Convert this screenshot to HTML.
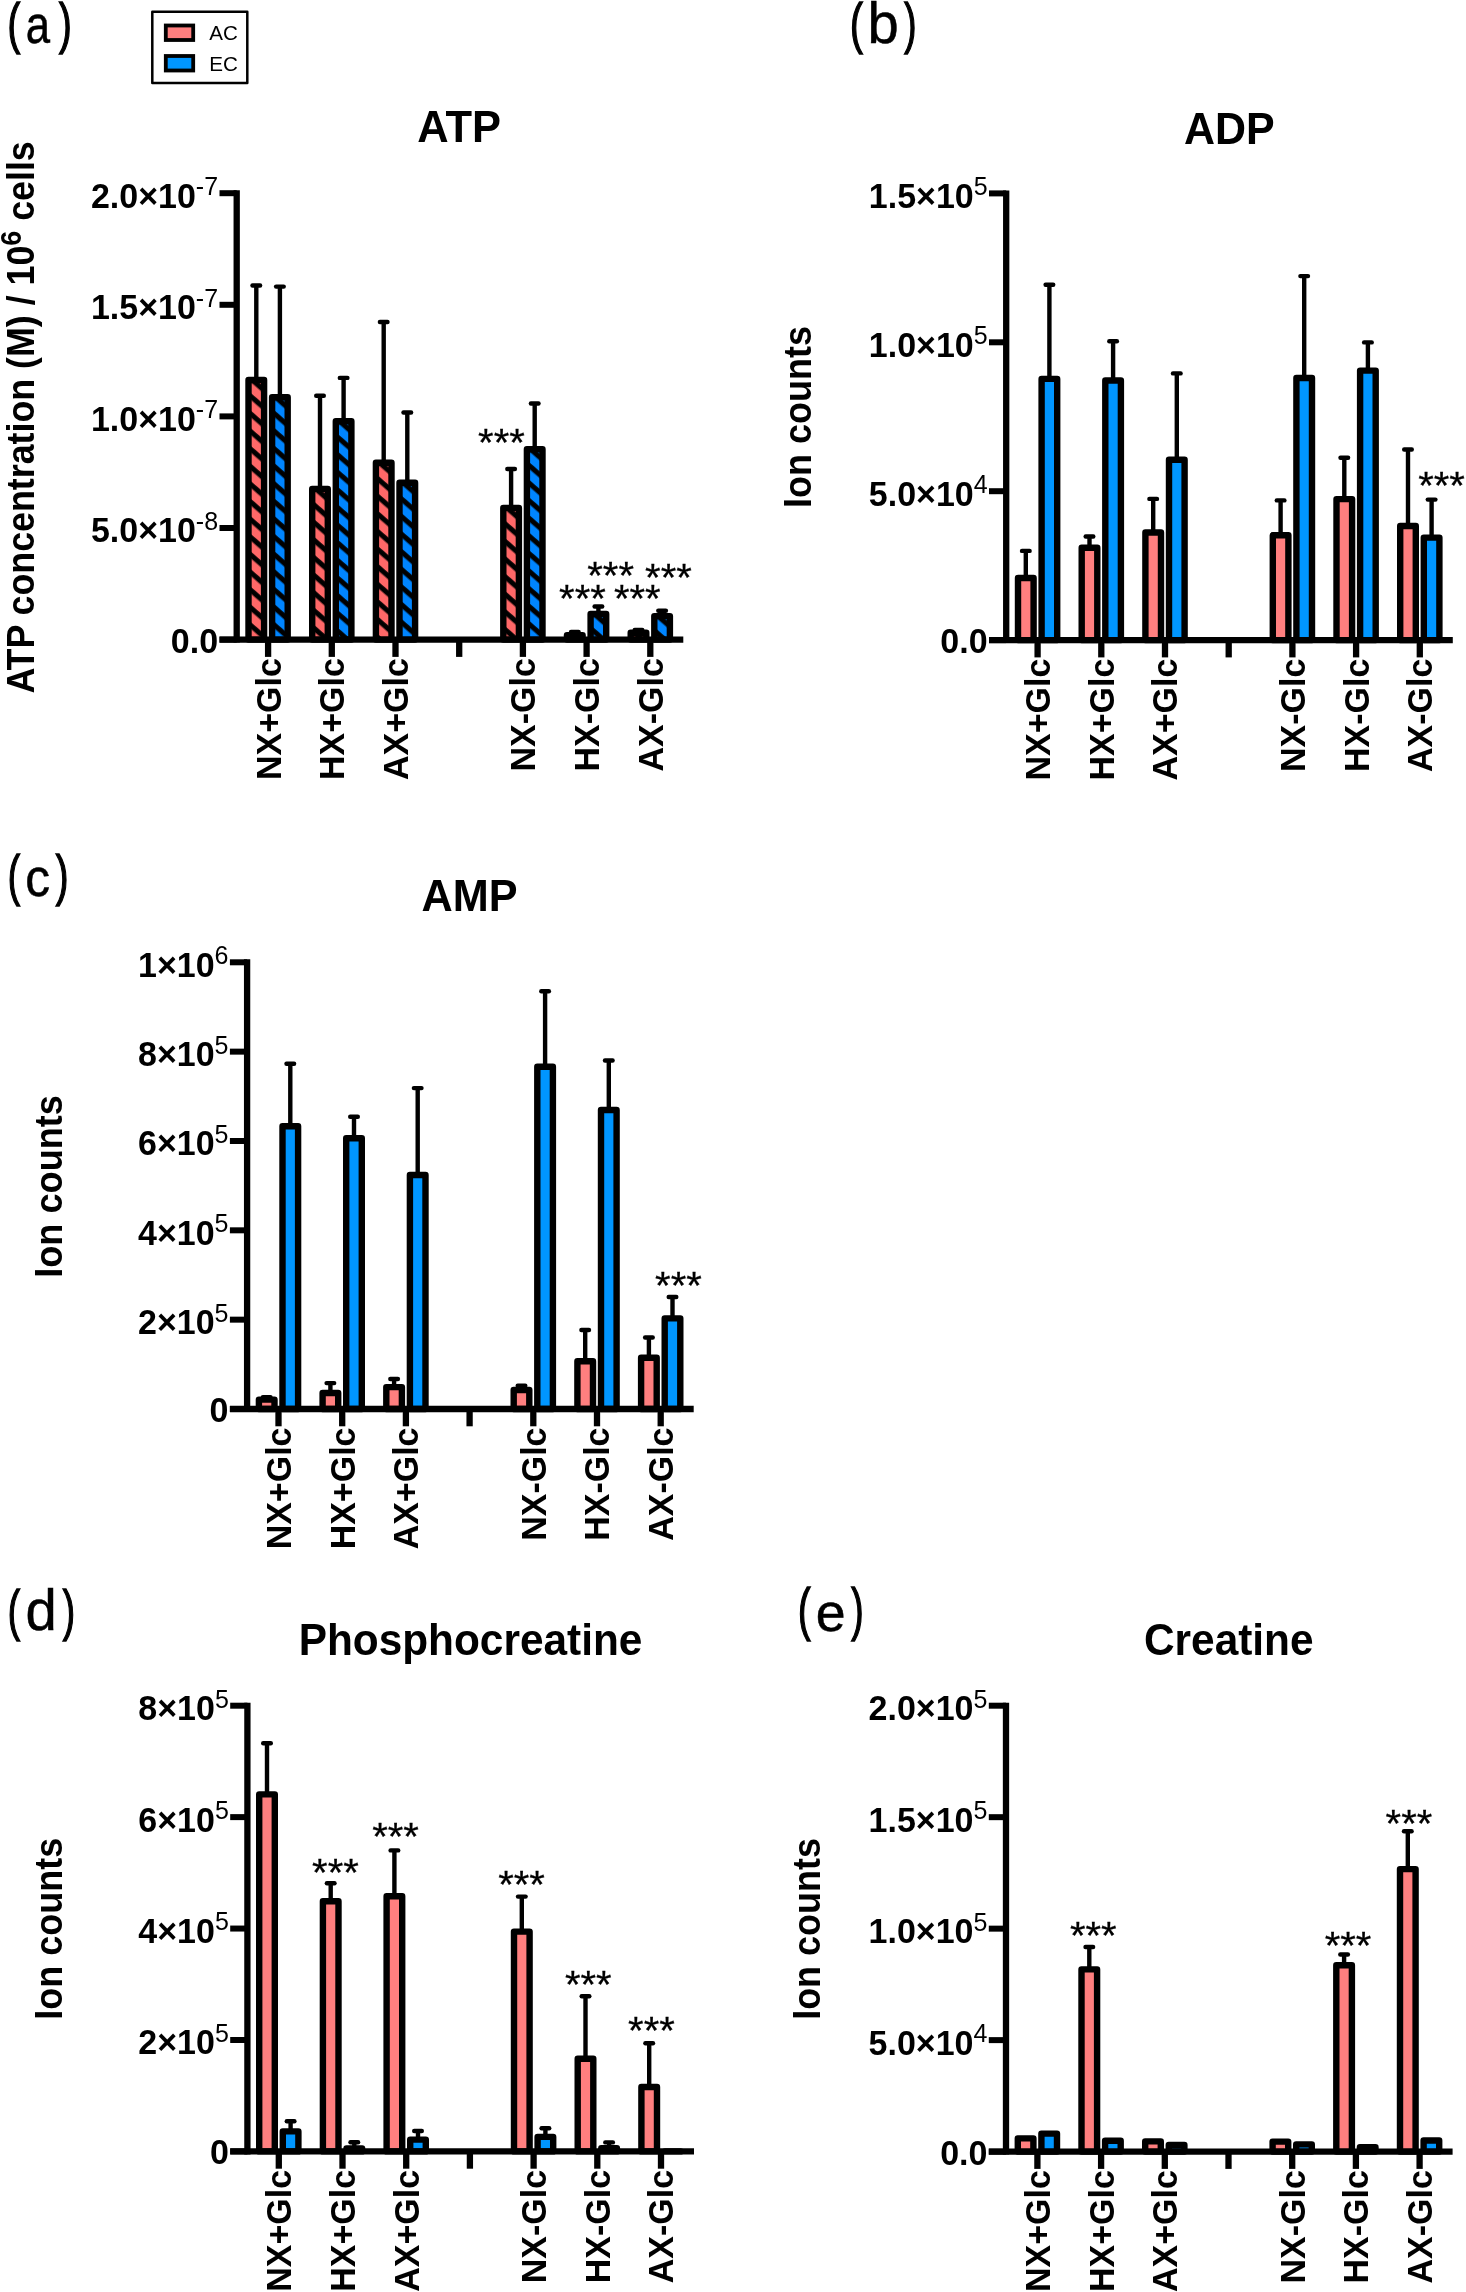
<!DOCTYPE html><html><head><meta charset="utf-8"><style>html,body{margin:0;padding:0;background:#fff;width:1466px;height:2292px;overflow:hidden}svg{display:block;will-change:transform}</style></head><body><svg width="1466" height="2292" viewBox="0 0 1466 2292" font-family="Liberation Sans, sans-serif">
<defs><pattern id="ha0p" patternUnits="userSpaceOnUse" width="60" height="13.2980" patternTransform="translate(245.30,376.80) rotate(41)"><rect width="60" height="13.2980" fill="#FF6868"/><rect x="0" y="8.6661" width="60" height="5.0566" fill="#000"/><rect x="0" y="-4.6319" width="60" height="5.0566" fill="#000"/></pattern><pattern id="ha0b" patternUnits="userSpaceOnUse" width="60" height="13.2980" patternTransform="translate(268.90,394.10) rotate(41)"><rect width="60" height="13.2980" fill="#0085FF"/><rect x="0" y="8.6661" width="60" height="5.0566" fill="#000"/><rect x="0" y="-4.6319" width="60" height="5.0566" fill="#000"/></pattern><pattern id="ha1p" patternUnits="userSpaceOnUse" width="60" height="13.2980" patternTransform="translate(309.00,485.70) rotate(41)"><rect width="60" height="13.2980" fill="#FF6868"/><rect x="0" y="8.6661" width="60" height="5.0566" fill="#000"/><rect x="0" y="-4.6319" width="60" height="5.0566" fill="#000"/></pattern><pattern id="ha1b" patternUnits="userSpaceOnUse" width="60" height="13.2980" patternTransform="translate(332.60,418.00) rotate(41)"><rect width="60" height="13.2980" fill="#0085FF"/><rect x="0" y="8.6661" width="60" height="5.0566" fill="#000"/><rect x="0" y="-4.6319" width="60" height="5.0566" fill="#000"/></pattern><pattern id="ha2p" patternUnits="userSpaceOnUse" width="60" height="13.2980" patternTransform="translate(372.70,459.60) rotate(41)"><rect width="60" height="13.2980" fill="#FF6868"/><rect x="0" y="8.6661" width="60" height="5.0566" fill="#000"/><rect x="0" y="-4.6319" width="60" height="5.0566" fill="#000"/></pattern><pattern id="ha2b" patternUnits="userSpaceOnUse" width="60" height="13.2980" patternTransform="translate(396.30,479.60) rotate(41)"><rect width="60" height="13.2980" fill="#0085FF"/><rect x="0" y="8.6661" width="60" height="5.0566" fill="#000"/><rect x="0" y="-4.6319" width="60" height="5.0566" fill="#000"/></pattern><pattern id="ha4p" patternUnits="userSpaceOnUse" width="60" height="13.2980" patternTransform="translate(500.10,504.70) rotate(41)"><rect width="60" height="13.2980" fill="#FF6868"/><rect x="0" y="8.6661" width="60" height="5.0566" fill="#000"/><rect x="0" y="-4.6319" width="60" height="5.0566" fill="#000"/></pattern><pattern id="ha4b" patternUnits="userSpaceOnUse" width="60" height="13.2980" patternTransform="translate(523.70,446.00) rotate(41)"><rect width="60" height="13.2980" fill="#0085FF"/><rect x="0" y="8.6661" width="60" height="5.0566" fill="#000"/><rect x="0" y="-4.6319" width="60" height="5.0566" fill="#000"/></pattern><pattern id="ha5p" patternUnits="userSpaceOnUse" width="60" height="13.2980" patternTransform="translate(563.80,632.10) rotate(41)"><rect width="60" height="13.2980" fill="#FF6868"/><rect x="0" y="8.6661" width="60" height="5.0566" fill="#000"/><rect x="0" y="-4.6319" width="60" height="5.0566" fill="#000"/></pattern><pattern id="ha5b" patternUnits="userSpaceOnUse" width="60" height="13.2980" patternTransform="translate(587.40,610.80) rotate(41)"><rect width="60" height="13.2980" fill="#0085FF"/><rect x="0" y="8.6661" width="60" height="5.0566" fill="#000"/><rect x="0" y="-4.6319" width="60" height="5.0566" fill="#000"/></pattern><pattern id="ha6p" patternUnits="userSpaceOnUse" width="60" height="13.2980" patternTransform="translate(627.50,629.50) rotate(41)"><rect width="60" height="13.2980" fill="#FF6868"/><rect x="0" y="8.6661" width="60" height="5.0566" fill="#000"/><rect x="0" y="-4.6319" width="60" height="5.0566" fill="#000"/></pattern><pattern id="ha6b" patternUnits="userSpaceOnUse" width="60" height="13.2980" patternTransform="translate(651.10,612.90) rotate(41)"><rect width="60" height="13.2980" fill="#0085FF"/><rect x="0" y="8.6661" width="60" height="5.0566" fill="#000"/><rect x="0" y="-4.6319" width="60" height="5.0566" fill="#000"/></pattern></defs>
<rect width="1466" height="2292" fill="#fff"/>
<line x1="219.50" y1="193.20" x2="236.70" y2="193.20" stroke="#000" stroke-width="6"/>
<text transform="translate(195.87,207.60) scale(1,1.04)" text-anchor="end" font-size="34" font-weight="bold">2.0×10</text>
<text x="195.87" y="195.10" font-size="25">-7</text>
<line x1="219.50" y1="304.80" x2="236.70" y2="304.80" stroke="#000" stroke-width="6"/>
<text transform="translate(195.87,319.20) scale(1,1.04)" text-anchor="end" font-size="34" font-weight="bold">1.5×10</text>
<text x="195.87" y="306.70" font-size="25">-7</text>
<line x1="219.50" y1="416.40" x2="236.70" y2="416.40" stroke="#000" stroke-width="6"/>
<text transform="translate(195.87,430.80) scale(1,1.04)" text-anchor="end" font-size="34" font-weight="bold">1.0×10</text>
<text x="195.87" y="418.30" font-size="25">-7</text>
<line x1="219.50" y1="528.00" x2="236.70" y2="528.00" stroke="#000" stroke-width="6"/>
<text transform="translate(195.87,542.40) scale(1,1.04)" text-anchor="end" font-size="34" font-weight="bold">5.0×10</text>
<text x="195.87" y="529.90" font-size="25">-8</text>
<line x1="219.50" y1="639.60" x2="236.70" y2="639.60" stroke="#000" stroke-width="6"/>
<text transform="translate(218.10,652.50) scale(1,1.04)" text-anchor="end" font-size="34" font-weight="bold">0.0</text>
<line x1="256.30" y1="285.50" x2="256.30" y2="380.00" stroke="#000" stroke-width="4.4"/>
<line x1="252.50" y1="285.50" x2="260.10" y2="285.50" stroke="#000" stroke-width="4.4" stroke-linecap="round"/>
<rect x="248.50" y="380.00" width="15.60" height="259.60" fill="url(#ha0p)" stroke="#000" stroke-width="6.4" stroke-linejoin="round"/>
<line x1="279.90" y1="286.60" x2="279.90" y2="397.30" stroke="#000" stroke-width="4.4"/>
<line x1="276.10" y1="286.60" x2="283.70" y2="286.60" stroke="#000" stroke-width="4.4" stroke-linecap="round"/>
<rect x="272.10" y="397.30" width="15.60" height="242.30" fill="url(#ha0b)" stroke="#000" stroke-width="6.4" stroke-linejoin="round"/>
<line x1="320.00" y1="395.70" x2="320.00" y2="488.90" stroke="#000" stroke-width="4.4"/>
<line x1="316.20" y1="395.70" x2="323.80" y2="395.70" stroke="#000" stroke-width="4.4" stroke-linecap="round"/>
<rect x="312.20" y="488.90" width="15.60" height="150.70" fill="url(#ha1p)" stroke="#000" stroke-width="6.4" stroke-linejoin="round"/>
<line x1="343.60" y1="377.90" x2="343.60" y2="421.20" stroke="#000" stroke-width="4.4"/>
<line x1="339.80" y1="377.90" x2="347.40" y2="377.90" stroke="#000" stroke-width="4.4" stroke-linecap="round"/>
<rect x="335.80" y="421.20" width="15.60" height="218.40" fill="url(#ha1b)" stroke="#000" stroke-width="6.4" stroke-linejoin="round"/>
<line x1="383.70" y1="322.00" x2="383.70" y2="462.80" stroke="#000" stroke-width="4.4"/>
<line x1="379.90" y1="322.00" x2="387.50" y2="322.00" stroke="#000" stroke-width="4.4" stroke-linecap="round"/>
<rect x="375.90" y="462.80" width="15.60" height="176.80" fill="url(#ha2p)" stroke="#000" stroke-width="6.4" stroke-linejoin="round"/>
<line x1="407.30" y1="412.50" x2="407.30" y2="482.80" stroke="#000" stroke-width="4.4"/>
<line x1="403.50" y1="412.50" x2="411.10" y2="412.50" stroke="#000" stroke-width="4.4" stroke-linecap="round"/>
<rect x="399.50" y="482.80" width="15.60" height="156.80" fill="url(#ha2b)" stroke="#000" stroke-width="6.4" stroke-linejoin="round"/>
<line x1="511.10" y1="469.00" x2="511.10" y2="507.90" stroke="#000" stroke-width="4.4"/>
<line x1="507.30" y1="469.00" x2="514.90" y2="469.00" stroke="#000" stroke-width="4.4" stroke-linecap="round"/>
<rect x="503.30" y="507.90" width="15.60" height="131.70" fill="url(#ha4p)" stroke="#000" stroke-width="6.4" stroke-linejoin="round"/>
<line x1="534.70" y1="403.50" x2="534.70" y2="449.20" stroke="#000" stroke-width="4.4"/>
<line x1="530.90" y1="403.50" x2="538.50" y2="403.50" stroke="#000" stroke-width="4.4" stroke-linecap="round"/>
<rect x="526.90" y="449.20" width="15.60" height="190.40" fill="url(#ha4b)" stroke="#000" stroke-width="6.4" stroke-linejoin="round"/>
<line x1="574.80" y1="631.90" x2="574.80" y2="635.30" stroke="#000" stroke-width="4.4"/>
<line x1="571.00" y1="631.90" x2="578.60" y2="631.90" stroke="#000" stroke-width="4.4" stroke-linecap="round"/>
<rect x="567.00" y="635.30" width="15.60" height="4.30" fill="url(#ha5p)" stroke="#000" stroke-width="6.4" stroke-linejoin="round"/>
<line x1="598.40" y1="606.50" x2="598.40" y2="614.00" stroke="#000" stroke-width="4.4"/>
<line x1="594.60" y1="606.50" x2="602.20" y2="606.50" stroke="#000" stroke-width="4.4" stroke-linecap="round"/>
<rect x="590.60" y="614.00" width="15.60" height="25.60" fill="url(#ha5b)" stroke="#000" stroke-width="6.4" stroke-linejoin="round"/>
<line x1="638.50" y1="629.90" x2="638.50" y2="632.70" stroke="#000" stroke-width="4.4"/>
<line x1="634.70" y1="629.90" x2="642.30" y2="629.90" stroke="#000" stroke-width="4.4" stroke-linecap="round"/>
<rect x="630.70" y="632.70" width="15.60" height="6.90" fill="url(#ha6p)" stroke="#000" stroke-width="6.4" stroke-linejoin="round"/>
<line x1="662.10" y1="610.80" x2="662.10" y2="616.10" stroke="#000" stroke-width="4.4"/>
<line x1="658.30" y1="610.80" x2="665.90" y2="610.80" stroke="#000" stroke-width="4.4" stroke-linecap="round"/>
<rect x="654.30" y="616.10" width="15.60" height="23.50" fill="url(#ha6b)" stroke="#000" stroke-width="6.4" stroke-linejoin="round"/>
<line x1="236.70" y1="190.20" x2="236.70" y2="642.60" stroke="#000" stroke-width="6.3"/>
<line x1="219.50" y1="639.60" x2="683.30" y2="639.60" stroke="#000" stroke-width="6.3"/>
<line x1="268.10" y1="639.60" x2="268.10" y2="656.90" stroke="#000" stroke-width="6.3"/>
<line x1="331.80" y1="639.60" x2="331.80" y2="656.90" stroke="#000" stroke-width="6.3"/>
<line x1="395.50" y1="639.60" x2="395.50" y2="656.90" stroke="#000" stroke-width="6.3"/>
<line x1="459.20" y1="639.60" x2="459.20" y2="656.90" stroke="#000" stroke-width="6.3"/>
<line x1="522.90" y1="639.60" x2="522.90" y2="656.90" stroke="#000" stroke-width="6.3"/>
<line x1="586.60" y1="639.60" x2="586.60" y2="656.90" stroke="#000" stroke-width="6.3"/>
<line x1="650.30" y1="639.60" x2="650.30" y2="656.90" stroke="#000" stroke-width="6.3"/>
<text transform="translate(280.50,658.10) rotate(-90) scale(1,1.04)" text-anchor="end" font-size="34" font-weight="bold">NX+Glc</text>
<text transform="translate(344.20,658.10) rotate(-90) scale(1,1.04)" text-anchor="end" font-size="34" font-weight="bold">HX+Glc</text>
<text transform="translate(407.90,658.10) rotate(-90) scale(1,1.04)" text-anchor="end" font-size="34" font-weight="bold">AX+Glc</text>
<text transform="translate(535.30,658.10) rotate(-90) scale(1,1.04)" text-anchor="end" font-size="34" font-weight="bold">NX-Glc</text>
<text transform="translate(599.00,658.10) rotate(-90) scale(1,1.04)" text-anchor="end" font-size="34" font-weight="bold">HX-Glc</text>
<text transform="translate(662.70,658.10) rotate(-90) scale(1,1.04)" text-anchor="end" font-size="34" font-weight="bold">AX-Glc</text>
<text transform="translate(417.31,142.20) scale(0.9881,1)" font-size="44" font-weight="bold">ATP</text>
<line x1="989.00" y1="193.40" x2="1006.20" y2="193.40" stroke="#000" stroke-width="6"/>
<text transform="translate(973.70,207.80) scale(1,1.04)" text-anchor="end" font-size="34" font-weight="bold">1.5×10</text>
<text x="973.70" y="195.30" font-size="25">5</text>
<line x1="989.00" y1="342.30" x2="1006.20" y2="342.30" stroke="#000" stroke-width="6"/>
<text transform="translate(973.70,356.70) scale(1,1.04)" text-anchor="end" font-size="34" font-weight="bold">1.0×10</text>
<text x="973.70" y="344.20" font-size="25">5</text>
<line x1="989.00" y1="491.20" x2="1006.20" y2="491.20" stroke="#000" stroke-width="6"/>
<text transform="translate(973.70,505.60) scale(1,1.04)" text-anchor="end" font-size="34" font-weight="bold">5.0×10</text>
<text x="973.70" y="493.10" font-size="25">4</text>
<line x1="989.00" y1="640.10" x2="1006.20" y2="640.10" stroke="#000" stroke-width="6"/>
<text transform="translate(987.60,653.00) scale(1,1.04)" text-anchor="end" font-size="34" font-weight="bold">0.0</text>
<line x1="1025.80" y1="550.90" x2="1025.80" y2="578.00" stroke="#000" stroke-width="4.4"/>
<line x1="1022.00" y1="550.90" x2="1029.60" y2="550.90" stroke="#000" stroke-width="4.4" stroke-linecap="round"/>
<rect x="1018.00" y="578.00" width="15.60" height="62.10" fill="#FF7F7F" stroke="#000" stroke-width="6.4" stroke-linejoin="round"/>
<line x1="1049.40" y1="284.70" x2="1049.40" y2="378.90" stroke="#000" stroke-width="4.4"/>
<line x1="1045.60" y1="284.70" x2="1053.20" y2="284.70" stroke="#000" stroke-width="4.4" stroke-linecap="round"/>
<rect x="1041.60" y="378.90" width="15.60" height="261.20" fill="#0096FF" stroke="#000" stroke-width="6.4" stroke-linejoin="round"/>
<line x1="1089.50" y1="536.50" x2="1089.50" y2="547.80" stroke="#000" stroke-width="4.4"/>
<line x1="1085.70" y1="536.50" x2="1093.30" y2="536.50" stroke="#000" stroke-width="4.4" stroke-linecap="round"/>
<rect x="1081.70" y="547.80" width="15.60" height="92.30" fill="#FF7F7F" stroke="#000" stroke-width="6.4" stroke-linejoin="round"/>
<line x1="1113.10" y1="341.30" x2="1113.10" y2="380.50" stroke="#000" stroke-width="4.4"/>
<line x1="1109.30" y1="341.30" x2="1116.90" y2="341.30" stroke="#000" stroke-width="4.4" stroke-linecap="round"/>
<rect x="1105.30" y="380.50" width="15.60" height="259.60" fill="#0096FF" stroke="#000" stroke-width="6.4" stroke-linejoin="round"/>
<line x1="1153.20" y1="498.90" x2="1153.20" y2="532.50" stroke="#000" stroke-width="4.4"/>
<line x1="1149.40" y1="498.90" x2="1157.00" y2="498.90" stroke="#000" stroke-width="4.4" stroke-linecap="round"/>
<rect x="1145.40" y="532.50" width="15.60" height="107.60" fill="#FF7F7F" stroke="#000" stroke-width="6.4" stroke-linejoin="round"/>
<line x1="1176.80" y1="373.40" x2="1176.80" y2="459.70" stroke="#000" stroke-width="4.4"/>
<line x1="1173.00" y1="373.40" x2="1180.60" y2="373.40" stroke="#000" stroke-width="4.4" stroke-linecap="round"/>
<rect x="1169.00" y="459.70" width="15.60" height="180.40" fill="#0096FF" stroke="#000" stroke-width="6.4" stroke-linejoin="round"/>
<line x1="1280.60" y1="500.40" x2="1280.60" y2="535.30" stroke="#000" stroke-width="4.4"/>
<line x1="1276.80" y1="500.40" x2="1284.40" y2="500.40" stroke="#000" stroke-width="4.4" stroke-linecap="round"/>
<rect x="1272.80" y="535.30" width="15.60" height="104.80" fill="#FF7F7F" stroke="#000" stroke-width="6.4" stroke-linejoin="round"/>
<line x1="1304.20" y1="276.10" x2="1304.20" y2="378.00" stroke="#000" stroke-width="4.4"/>
<line x1="1300.40" y1="276.10" x2="1308.00" y2="276.10" stroke="#000" stroke-width="4.4" stroke-linecap="round"/>
<rect x="1296.40" y="378.00" width="15.60" height="262.10" fill="#0096FF" stroke="#000" stroke-width="6.4" stroke-linejoin="round"/>
<line x1="1344.30" y1="457.70" x2="1344.30" y2="499.10" stroke="#000" stroke-width="4.4"/>
<line x1="1340.50" y1="457.70" x2="1348.10" y2="457.70" stroke="#000" stroke-width="4.4" stroke-linecap="round"/>
<rect x="1336.50" y="499.10" width="15.60" height="141.00" fill="#FF7F7F" stroke="#000" stroke-width="6.4" stroke-linejoin="round"/>
<line x1="1367.90" y1="342.40" x2="1367.90" y2="370.60" stroke="#000" stroke-width="4.4"/>
<line x1="1364.10" y1="342.40" x2="1371.70" y2="342.40" stroke="#000" stroke-width="4.4" stroke-linecap="round"/>
<rect x="1360.10" y="370.60" width="15.60" height="269.50" fill="#0096FF" stroke="#000" stroke-width="6.4" stroke-linejoin="round"/>
<line x1="1408.00" y1="449.50" x2="1408.00" y2="526.00" stroke="#000" stroke-width="4.4"/>
<line x1="1404.20" y1="449.50" x2="1411.80" y2="449.50" stroke="#000" stroke-width="4.4" stroke-linecap="round"/>
<rect x="1400.20" y="526.00" width="15.60" height="114.10" fill="#FF7F7F" stroke="#000" stroke-width="6.4" stroke-linejoin="round"/>
<line x1="1431.60" y1="499.60" x2="1431.60" y2="537.60" stroke="#000" stroke-width="4.4"/>
<line x1="1427.80" y1="499.60" x2="1435.40" y2="499.60" stroke="#000" stroke-width="4.4" stroke-linecap="round"/>
<rect x="1423.80" y="537.60" width="15.60" height="102.50" fill="#0096FF" stroke="#000" stroke-width="6.4" stroke-linejoin="round"/>
<line x1="1006.20" y1="190.40" x2="1006.20" y2="643.10" stroke="#000" stroke-width="6.3"/>
<line x1="989.00" y1="640.10" x2="1452.80" y2="640.10" stroke="#000" stroke-width="6.3"/>
<line x1="1037.60" y1="640.10" x2="1037.60" y2="657.40" stroke="#000" stroke-width="6.3"/>
<line x1="1101.30" y1="640.10" x2="1101.30" y2="657.40" stroke="#000" stroke-width="6.3"/>
<line x1="1165.00" y1="640.10" x2="1165.00" y2="657.40" stroke="#000" stroke-width="6.3"/>
<line x1="1228.70" y1="640.10" x2="1228.70" y2="657.40" stroke="#000" stroke-width="6.3"/>
<line x1="1292.40" y1="640.10" x2="1292.40" y2="657.40" stroke="#000" stroke-width="6.3"/>
<line x1="1356.10" y1="640.10" x2="1356.10" y2="657.40" stroke="#000" stroke-width="6.3"/>
<line x1="1419.80" y1="640.10" x2="1419.80" y2="657.40" stroke="#000" stroke-width="6.3"/>
<text transform="translate(1050.00,658.60) rotate(-90) scale(1,1.04)" text-anchor="end" font-size="34" font-weight="bold">NX+Glc</text>
<text transform="translate(1113.70,658.60) rotate(-90) scale(1,1.04)" text-anchor="end" font-size="34" font-weight="bold">HX+Glc</text>
<text transform="translate(1177.40,658.60) rotate(-90) scale(1,1.04)" text-anchor="end" font-size="34" font-weight="bold">AX+Glc</text>
<text transform="translate(1304.80,658.60) rotate(-90) scale(1,1.04)" text-anchor="end" font-size="34" font-weight="bold">NX-Glc</text>
<text transform="translate(1368.50,658.60) rotate(-90) scale(1,1.04)" text-anchor="end" font-size="34" font-weight="bold">HX-Glc</text>
<text transform="translate(1432.20,658.60) rotate(-90) scale(1,1.04)" text-anchor="end" font-size="34" font-weight="bold">AX-Glc</text>
<text transform="translate(1183.93,143.50) scale(0.9766,1)" font-size="44" font-weight="bold">ADP</text>
<line x1="229.90" y1="962.30" x2="247.10" y2="962.30" stroke="#000" stroke-width="6"/>
<text transform="translate(214.60,976.70) scale(1,1.04)" text-anchor="end" font-size="34" font-weight="bold">1×10</text>
<text x="214.60" y="964.20" font-size="25">6</text>
<line x1="229.90" y1="1051.64" x2="247.10" y2="1051.64" stroke="#000" stroke-width="6"/>
<text transform="translate(214.60,1066.04) scale(1,1.04)" text-anchor="end" font-size="34" font-weight="bold">8×10</text>
<text x="214.60" y="1053.54" font-size="25">5</text>
<line x1="229.90" y1="1140.98" x2="247.10" y2="1140.98" stroke="#000" stroke-width="6"/>
<text transform="translate(214.60,1155.38) scale(1,1.04)" text-anchor="end" font-size="34" font-weight="bold">6×10</text>
<text x="214.60" y="1142.88" font-size="25">5</text>
<line x1="229.90" y1="1230.32" x2="247.10" y2="1230.32" stroke="#000" stroke-width="6"/>
<text transform="translate(214.60,1244.72) scale(1,1.04)" text-anchor="end" font-size="34" font-weight="bold">4×10</text>
<text x="214.60" y="1232.22" font-size="25">5</text>
<line x1="229.90" y1="1319.66" x2="247.10" y2="1319.66" stroke="#000" stroke-width="6"/>
<text transform="translate(214.60,1334.06) scale(1,1.04)" text-anchor="end" font-size="34" font-weight="bold">2×10</text>
<text x="214.60" y="1321.56" font-size="25">5</text>
<line x1="229.90" y1="1409.00" x2="247.10" y2="1409.00" stroke="#000" stroke-width="6"/>
<text transform="translate(228.50,1421.90) scale(1,1.04)" text-anchor="end" font-size="34" font-weight="bold">0</text>
<line x1="266.70" y1="1397.20" x2="266.70" y2="1399.60" stroke="#000" stroke-width="4.4"/>
<line x1="262.90" y1="1397.20" x2="270.50" y2="1397.20" stroke="#000" stroke-width="4.4" stroke-linecap="round"/>
<rect x="258.90" y="1399.60" width="15.60" height="9.40" fill="#FF7F7F" stroke="#000" stroke-width="6.4" stroke-linejoin="round"/>
<line x1="290.30" y1="1063.80" x2="290.30" y2="1126.30" stroke="#000" stroke-width="4.4"/>
<line x1="286.50" y1="1063.80" x2="294.10" y2="1063.80" stroke="#000" stroke-width="4.4" stroke-linecap="round"/>
<rect x="282.50" y="1126.30" width="15.60" height="282.70" fill="#0096FF" stroke="#000" stroke-width="6.4" stroke-linejoin="round"/>
<line x1="330.40" y1="1383.10" x2="330.40" y2="1393.00" stroke="#000" stroke-width="4.4"/>
<line x1="326.60" y1="1383.10" x2="334.20" y2="1383.10" stroke="#000" stroke-width="4.4" stroke-linecap="round"/>
<rect x="322.60" y="1393.00" width="15.60" height="16.00" fill="#FF7F7F" stroke="#000" stroke-width="6.4" stroke-linejoin="round"/>
<line x1="354.00" y1="1116.80" x2="354.00" y2="1138.20" stroke="#000" stroke-width="4.4"/>
<line x1="350.20" y1="1116.80" x2="357.80" y2="1116.80" stroke="#000" stroke-width="4.4" stroke-linecap="round"/>
<rect x="346.20" y="1138.20" width="15.60" height="270.80" fill="#0096FF" stroke="#000" stroke-width="6.4" stroke-linejoin="round"/>
<line x1="394.10" y1="1379.00" x2="394.10" y2="1387.10" stroke="#000" stroke-width="4.4"/>
<line x1="390.30" y1="1379.00" x2="397.90" y2="1379.00" stroke="#000" stroke-width="4.4" stroke-linecap="round"/>
<rect x="386.30" y="1387.10" width="15.60" height="21.90" fill="#FF7F7F" stroke="#000" stroke-width="6.4" stroke-linejoin="round"/>
<line x1="417.70" y1="1088.10" x2="417.70" y2="1175.00" stroke="#000" stroke-width="4.4"/>
<line x1="413.90" y1="1088.10" x2="421.50" y2="1088.10" stroke="#000" stroke-width="4.4" stroke-linecap="round"/>
<rect x="409.90" y="1175.00" width="15.60" height="234.00" fill="#0096FF" stroke="#000" stroke-width="6.4" stroke-linejoin="round"/>
<line x1="521.50" y1="1385.80" x2="521.50" y2="1390.00" stroke="#000" stroke-width="4.4"/>
<line x1="517.70" y1="1385.80" x2="525.30" y2="1385.80" stroke="#000" stroke-width="4.4" stroke-linecap="round"/>
<rect x="513.70" y="1390.00" width="15.60" height="19.00" fill="#FF7F7F" stroke="#000" stroke-width="6.4" stroke-linejoin="round"/>
<line x1="545.10" y1="991.30" x2="545.10" y2="1066.80" stroke="#000" stroke-width="4.4"/>
<line x1="541.30" y1="991.30" x2="548.90" y2="991.30" stroke="#000" stroke-width="4.4" stroke-linecap="round"/>
<rect x="537.30" y="1066.80" width="15.60" height="342.20" fill="#0096FF" stroke="#000" stroke-width="6.4" stroke-linejoin="round"/>
<line x1="585.20" y1="1330.00" x2="585.20" y2="1361.20" stroke="#000" stroke-width="4.4"/>
<line x1="581.40" y1="1330.00" x2="589.00" y2="1330.00" stroke="#000" stroke-width="4.4" stroke-linecap="round"/>
<rect x="577.40" y="1361.20" width="15.60" height="47.80" fill="#FF7F7F" stroke="#000" stroke-width="6.4" stroke-linejoin="round"/>
<line x1="608.80" y1="1060.50" x2="608.80" y2="1110.00" stroke="#000" stroke-width="4.4"/>
<line x1="605.00" y1="1060.50" x2="612.60" y2="1060.50" stroke="#000" stroke-width="4.4" stroke-linecap="round"/>
<rect x="601.00" y="1110.00" width="15.60" height="299.00" fill="#0096FF" stroke="#000" stroke-width="6.4" stroke-linejoin="round"/>
<line x1="648.90" y1="1337.50" x2="648.90" y2="1357.80" stroke="#000" stroke-width="4.4"/>
<line x1="645.10" y1="1337.50" x2="652.70" y2="1337.50" stroke="#000" stroke-width="4.4" stroke-linecap="round"/>
<rect x="641.10" y="1357.80" width="15.60" height="51.20" fill="#FF7F7F" stroke="#000" stroke-width="6.4" stroke-linejoin="round"/>
<line x1="672.50" y1="1297.00" x2="672.50" y2="1318.40" stroke="#000" stroke-width="4.4"/>
<line x1="668.70" y1="1297.00" x2="676.30" y2="1297.00" stroke="#000" stroke-width="4.4" stroke-linecap="round"/>
<rect x="664.70" y="1318.40" width="15.60" height="90.60" fill="#0096FF" stroke="#000" stroke-width="6.4" stroke-linejoin="round"/>
<line x1="247.10" y1="959.30" x2="247.10" y2="1412.00" stroke="#000" stroke-width="6.3"/>
<line x1="229.90" y1="1409.00" x2="693.70" y2="1409.00" stroke="#000" stroke-width="6.3"/>
<line x1="278.50" y1="1409.00" x2="278.50" y2="1426.30" stroke="#000" stroke-width="6.3"/>
<line x1="342.20" y1="1409.00" x2="342.20" y2="1426.30" stroke="#000" stroke-width="6.3"/>
<line x1="405.90" y1="1409.00" x2="405.90" y2="1426.30" stroke="#000" stroke-width="6.3"/>
<line x1="469.60" y1="1409.00" x2="469.60" y2="1426.30" stroke="#000" stroke-width="6.3"/>
<line x1="533.30" y1="1409.00" x2="533.30" y2="1426.30" stroke="#000" stroke-width="6.3"/>
<line x1="597.00" y1="1409.00" x2="597.00" y2="1426.30" stroke="#000" stroke-width="6.3"/>
<line x1="660.70" y1="1409.00" x2="660.70" y2="1426.30" stroke="#000" stroke-width="6.3"/>
<text transform="translate(290.90,1427.50) rotate(-90) scale(1,1.04)" text-anchor="end" font-size="34" font-weight="bold">NX+Glc</text>
<text transform="translate(354.60,1427.50) rotate(-90) scale(1,1.04)" text-anchor="end" font-size="34" font-weight="bold">HX+Glc</text>
<text transform="translate(418.30,1427.50) rotate(-90) scale(1,1.04)" text-anchor="end" font-size="34" font-weight="bold">AX+Glc</text>
<text transform="translate(545.70,1427.50) rotate(-90) scale(1,1.04)" text-anchor="end" font-size="34" font-weight="bold">NX-Glc</text>
<text transform="translate(609.40,1427.50) rotate(-90) scale(1,1.04)" text-anchor="end" font-size="34" font-weight="bold">HX-Glc</text>
<text transform="translate(673.10,1427.50) rotate(-90) scale(1,1.04)" text-anchor="end" font-size="34" font-weight="bold">AX-Glc</text>
<text transform="translate(421.62,911.10) scale(0.9826,1)" font-size="44" font-weight="bold">AMP</text>
<line x1="230.20" y1="1705.70" x2="247.40" y2="1705.70" stroke="#000" stroke-width="6"/>
<text transform="translate(214.90,1720.10) scale(1,1.04)" text-anchor="end" font-size="34" font-weight="bold">8×10</text>
<text x="214.90" y="1707.60" font-size="25">5</text>
<line x1="230.20" y1="1817.12" x2="247.40" y2="1817.12" stroke="#000" stroke-width="6"/>
<text transform="translate(214.90,1831.53) scale(1,1.04)" text-anchor="end" font-size="34" font-weight="bold">6×10</text>
<text x="214.90" y="1819.03" font-size="25">5</text>
<line x1="230.20" y1="1928.55" x2="247.40" y2="1928.55" stroke="#000" stroke-width="6"/>
<text transform="translate(214.90,1942.95) scale(1,1.04)" text-anchor="end" font-size="34" font-weight="bold">4×10</text>
<text x="214.90" y="1930.45" font-size="25">5</text>
<line x1="230.20" y1="2039.98" x2="247.40" y2="2039.98" stroke="#000" stroke-width="6"/>
<text transform="translate(214.90,2054.38) scale(1,1.04)" text-anchor="end" font-size="34" font-weight="bold">2×10</text>
<text x="214.90" y="2041.88" font-size="25">5</text>
<line x1="230.20" y1="2151.40" x2="247.40" y2="2151.40" stroke="#000" stroke-width="6"/>
<text transform="translate(228.80,2164.30) scale(1,1.04)" text-anchor="end" font-size="34" font-weight="bold">0</text>
<line x1="267.00" y1="1743.30" x2="267.00" y2="1794.40" stroke="#000" stroke-width="4.4"/>
<line x1="263.20" y1="1743.30" x2="270.80" y2="1743.30" stroke="#000" stroke-width="4.4" stroke-linecap="round"/>
<rect x="259.20" y="1794.40" width="15.60" height="357.00" fill="#FF7F7F" stroke="#000" stroke-width="6.4" stroke-linejoin="round"/>
<line x1="290.60" y1="2121.20" x2="290.60" y2="2131.40" stroke="#000" stroke-width="4.4"/>
<line x1="286.80" y1="2121.20" x2="294.40" y2="2121.20" stroke="#000" stroke-width="4.4" stroke-linecap="round"/>
<rect x="282.80" y="2131.40" width="15.60" height="20.00" fill="#0096FF" stroke="#000" stroke-width="6.4" stroke-linejoin="round"/>
<line x1="330.70" y1="1883.20" x2="330.70" y2="1901.20" stroke="#000" stroke-width="4.4"/>
<line x1="326.90" y1="1883.20" x2="334.50" y2="1883.20" stroke="#000" stroke-width="4.4" stroke-linecap="round"/>
<rect x="322.90" y="1901.20" width="15.60" height="250.20" fill="#FF7F7F" stroke="#000" stroke-width="6.4" stroke-linejoin="round"/>
<line x1="354.30" y1="2142.20" x2="354.30" y2="2148.50" stroke="#000" stroke-width="4.4"/>
<line x1="350.50" y1="2142.20" x2="358.10" y2="2142.20" stroke="#000" stroke-width="4.4" stroke-linecap="round"/>
<rect x="346.50" y="2148.50" width="15.60" height="2.90" fill="#0096FF" stroke="#000" stroke-width="6.4" stroke-linejoin="round"/>
<line x1="394.40" y1="1850.40" x2="394.40" y2="1896.20" stroke="#000" stroke-width="4.4"/>
<line x1="390.60" y1="1850.40" x2="398.20" y2="1850.40" stroke="#000" stroke-width="4.4" stroke-linecap="round"/>
<rect x="386.60" y="1896.20" width="15.60" height="255.20" fill="#FF7F7F" stroke="#000" stroke-width="6.4" stroke-linejoin="round"/>
<line x1="418.00" y1="2131.00" x2="418.00" y2="2139.60" stroke="#000" stroke-width="4.4"/>
<line x1="414.20" y1="2131.00" x2="421.80" y2="2131.00" stroke="#000" stroke-width="4.4" stroke-linecap="round"/>
<rect x="410.20" y="2139.60" width="15.60" height="11.80" fill="#0096FF" stroke="#000" stroke-width="6.4" stroke-linejoin="round"/>
<line x1="521.80" y1="1896.60" x2="521.80" y2="1931.60" stroke="#000" stroke-width="4.4"/>
<line x1="518.00" y1="1896.60" x2="525.60" y2="1896.60" stroke="#000" stroke-width="4.4" stroke-linecap="round"/>
<rect x="514.00" y="1931.60" width="15.60" height="219.80" fill="#FF7F7F" stroke="#000" stroke-width="6.4" stroke-linejoin="round"/>
<line x1="545.40" y1="2128.30" x2="545.40" y2="2136.90" stroke="#000" stroke-width="4.4"/>
<line x1="541.60" y1="2128.30" x2="549.20" y2="2128.30" stroke="#000" stroke-width="4.4" stroke-linecap="round"/>
<rect x="537.60" y="2136.90" width="15.60" height="14.50" fill="#0096FF" stroke="#000" stroke-width="6.4" stroke-linejoin="round"/>
<line x1="585.50" y1="1996.20" x2="585.50" y2="2058.70" stroke="#000" stroke-width="4.4"/>
<line x1="581.70" y1="1996.20" x2="589.30" y2="1996.20" stroke="#000" stroke-width="4.4" stroke-linecap="round"/>
<rect x="577.70" y="2058.70" width="15.60" height="92.70" fill="#FF7F7F" stroke="#000" stroke-width="6.4" stroke-linejoin="round"/>
<line x1="609.10" y1="2142.40" x2="609.10" y2="2148.20" stroke="#000" stroke-width="4.4"/>
<line x1="605.30" y1="2142.40" x2="612.90" y2="2142.40" stroke="#000" stroke-width="4.4" stroke-linecap="round"/>
<rect x="601.30" y="2148.20" width="15.60" height="3.20" fill="#0096FF" stroke="#000" stroke-width="6.4" stroke-linejoin="round"/>
<line x1="649.20" y1="2043.30" x2="649.20" y2="2087.00" stroke="#000" stroke-width="4.4"/>
<line x1="645.40" y1="2043.30" x2="653.00" y2="2043.30" stroke="#000" stroke-width="4.4" stroke-linecap="round"/>
<rect x="641.40" y="2087.00" width="15.60" height="64.40" fill="#FF7F7F" stroke="#000" stroke-width="6.4" stroke-linejoin="round"/>
<rect x="665.00" y="2151.39" width="15.60" height="0.01" fill="#0096FF" stroke="#000" stroke-width="6.4" stroke-linejoin="round"/>
<line x1="247.40" y1="1702.70" x2="247.40" y2="2154.40" stroke="#000" stroke-width="6.3"/>
<line x1="230.20" y1="2151.40" x2="694.00" y2="2151.40" stroke="#000" stroke-width="6.3"/>
<line x1="278.80" y1="2151.40" x2="278.80" y2="2168.70" stroke="#000" stroke-width="6.3"/>
<line x1="342.50" y1="2151.40" x2="342.50" y2="2168.70" stroke="#000" stroke-width="6.3"/>
<line x1="406.20" y1="2151.40" x2="406.20" y2="2168.70" stroke="#000" stroke-width="6.3"/>
<line x1="469.90" y1="2151.40" x2="469.90" y2="2168.70" stroke="#000" stroke-width="6.3"/>
<line x1="533.60" y1="2151.40" x2="533.60" y2="2168.70" stroke="#000" stroke-width="6.3"/>
<line x1="597.30" y1="2151.40" x2="597.30" y2="2168.70" stroke="#000" stroke-width="6.3"/>
<line x1="661.00" y1="2151.40" x2="661.00" y2="2168.70" stroke="#000" stroke-width="6.3"/>
<text transform="translate(291.20,2169.90) rotate(-90) scale(1,1.04)" text-anchor="end" font-size="34" font-weight="bold">NX+Glc</text>
<text transform="translate(354.90,2169.90) rotate(-90) scale(1,1.04)" text-anchor="end" font-size="34" font-weight="bold">HX+Glc</text>
<text transform="translate(418.60,2169.90) rotate(-90) scale(1,1.04)" text-anchor="end" font-size="34" font-weight="bold">AX+Glc</text>
<text transform="translate(546.00,2169.90) rotate(-90) scale(1,1.04)" text-anchor="end" font-size="34" font-weight="bold">NX-Glc</text>
<text transform="translate(609.70,2169.90) rotate(-90) scale(1,1.04)" text-anchor="end" font-size="34" font-weight="bold">HX-Glc</text>
<text transform="translate(673.40,2169.90) rotate(-90) scale(1,1.04)" text-anchor="end" font-size="34" font-weight="bold">AX-Glc</text>
<text transform="translate(298.65,1655.40) scale(0.9630,1)" font-size="44" font-weight="bold">Phosphocreatine</text>
<line x1="988.80" y1="1705.70" x2="1006.00" y2="1705.70" stroke="#000" stroke-width="6"/>
<text transform="translate(973.50,1720.10) scale(1,1.04)" text-anchor="end" font-size="34" font-weight="bold">2.0×10</text>
<text x="973.50" y="1707.60" font-size="25">5</text>
<line x1="988.80" y1="1817.17" x2="1006.00" y2="1817.17" stroke="#000" stroke-width="6"/>
<text transform="translate(973.50,1831.58) scale(1,1.04)" text-anchor="end" font-size="34" font-weight="bold">1.5×10</text>
<text x="973.50" y="1819.08" font-size="25">5</text>
<line x1="988.80" y1="1928.65" x2="1006.00" y2="1928.65" stroke="#000" stroke-width="6"/>
<text transform="translate(973.50,1943.05) scale(1,1.04)" text-anchor="end" font-size="34" font-weight="bold">1.0×10</text>
<text x="973.50" y="1930.55" font-size="25">5</text>
<line x1="988.80" y1="2040.12" x2="1006.00" y2="2040.12" stroke="#000" stroke-width="6"/>
<text transform="translate(973.50,2054.53) scale(1,1.04)" text-anchor="end" font-size="34" font-weight="bold">5.0×10</text>
<text x="973.50" y="2042.03" font-size="25">4</text>
<line x1="988.80" y1="2151.60" x2="1006.00" y2="2151.60" stroke="#000" stroke-width="6"/>
<text transform="translate(987.40,2164.50) scale(1,1.04)" text-anchor="end" font-size="34" font-weight="bold">0.0</text>
<rect x="1017.80" y="2138.40" width="15.60" height="13.20" fill="#FF7F7F" stroke="#000" stroke-width="6.4" stroke-linejoin="round"/>
<rect x="1041.40" y="2133.60" width="15.60" height="18.00" fill="#0096FF" stroke="#000" stroke-width="6.4" stroke-linejoin="round"/>
<line x1="1089.30" y1="1947.00" x2="1089.30" y2="1969.40" stroke="#000" stroke-width="4.4"/>
<line x1="1085.50" y1="1947.00" x2="1093.10" y2="1947.00" stroke="#000" stroke-width="4.4" stroke-linecap="round"/>
<rect x="1081.50" y="1969.40" width="15.60" height="182.20" fill="#FF7F7F" stroke="#000" stroke-width="6.4" stroke-linejoin="round"/>
<rect x="1105.10" y="2140.70" width="15.60" height="10.90" fill="#0096FF" stroke="#000" stroke-width="6.4" stroke-linejoin="round"/>
<rect x="1145.20" y="2141.40" width="15.60" height="10.20" fill="#FF7F7F" stroke="#000" stroke-width="6.4" stroke-linejoin="round"/>
<rect x="1168.80" y="2145.00" width="15.60" height="6.60" fill="#0096FF" stroke="#000" stroke-width="6.4" stroke-linejoin="round"/>
<rect x="1272.60" y="2141.60" width="15.60" height="10.00" fill="#FF7F7F" stroke="#000" stroke-width="6.4" stroke-linejoin="round"/>
<rect x="1296.20" y="2144.40" width="15.60" height="7.20" fill="#0096FF" stroke="#000" stroke-width="6.4" stroke-linejoin="round"/>
<line x1="1344.10" y1="1954.50" x2="1344.10" y2="1965.20" stroke="#000" stroke-width="4.4"/>
<line x1="1340.30" y1="1954.50" x2="1347.90" y2="1954.50" stroke="#000" stroke-width="4.4" stroke-linecap="round"/>
<rect x="1336.30" y="1965.20" width="15.60" height="186.40" fill="#FF7F7F" stroke="#000" stroke-width="6.4" stroke-linejoin="round"/>
<rect x="1359.90" y="2147.20" width="15.60" height="4.40" fill="#0096FF" stroke="#000" stroke-width="6.4" stroke-linejoin="round"/>
<line x1="1407.80" y1="1831.30" x2="1407.80" y2="1869.10" stroke="#000" stroke-width="4.4"/>
<line x1="1404.00" y1="1831.30" x2="1411.60" y2="1831.30" stroke="#000" stroke-width="4.4" stroke-linecap="round"/>
<rect x="1400.00" y="1869.10" width="15.60" height="282.50" fill="#FF7F7F" stroke="#000" stroke-width="6.4" stroke-linejoin="round"/>
<rect x="1423.60" y="2140.50" width="15.60" height="11.10" fill="#0096FF" stroke="#000" stroke-width="6.4" stroke-linejoin="round"/>
<line x1="1006.00" y1="1702.70" x2="1006.00" y2="2154.60" stroke="#000" stroke-width="6.3"/>
<line x1="988.80" y1="2151.60" x2="1452.60" y2="2151.60" stroke="#000" stroke-width="6.3"/>
<line x1="1037.40" y1="2151.60" x2="1037.40" y2="2168.90" stroke="#000" stroke-width="6.3"/>
<line x1="1101.10" y1="2151.60" x2="1101.10" y2="2168.90" stroke="#000" stroke-width="6.3"/>
<line x1="1164.80" y1="2151.60" x2="1164.80" y2="2168.90" stroke="#000" stroke-width="6.3"/>
<line x1="1228.50" y1="2151.60" x2="1228.50" y2="2168.90" stroke="#000" stroke-width="6.3"/>
<line x1="1292.20" y1="2151.60" x2="1292.20" y2="2168.90" stroke="#000" stroke-width="6.3"/>
<line x1="1355.90" y1="2151.60" x2="1355.90" y2="2168.90" stroke="#000" stroke-width="6.3"/>
<line x1="1419.60" y1="2151.60" x2="1419.60" y2="2168.90" stroke="#000" stroke-width="6.3"/>
<text transform="translate(1049.80,2170.10) rotate(-90) scale(1,1.04)" text-anchor="end" font-size="34" font-weight="bold">NX+Glc</text>
<text transform="translate(1113.50,2170.10) rotate(-90) scale(1,1.04)" text-anchor="end" font-size="34" font-weight="bold">HX+Glc</text>
<text transform="translate(1177.20,2170.10) rotate(-90) scale(1,1.04)" text-anchor="end" font-size="34" font-weight="bold">AX+Glc</text>
<text transform="translate(1304.60,2170.10) rotate(-90) scale(1,1.04)" text-anchor="end" font-size="34" font-weight="bold">NX-Glc</text>
<text transform="translate(1368.30,2170.10) rotate(-90) scale(1,1.04)" text-anchor="end" font-size="34" font-weight="bold">HX-Glc</text>
<text transform="translate(1432.00,2170.10) rotate(-90) scale(1,1.04)" text-anchor="end" font-size="34" font-weight="bold">AX-Glc</text>
<text transform="translate(1144.00,1655.00) scale(0.9635,1)" font-size="44" font-weight="bold">Creatine</text>
<text transform="translate(478.10,455.67) scale(1.0,0.97)" font-size="40" stroke="#000" stroke-width="0.3">***</text>
<text transform="translate(587.30,588.57) scale(1.0,0.97)" font-size="40" stroke="#000" stroke-width="0.3">***</text>
<text transform="translate(645.10,591.07) scale(1.0,0.97)" font-size="40" stroke="#000" stroke-width="0.3">***</text>
<text transform="translate(559.10,611.57) scale(1.0,0.97)" font-size="40" stroke="#000" stroke-width="0.3">***</text>
<text transform="translate(613.90,611.57) scale(1.0,0.97)" font-size="40" stroke="#000" stroke-width="0.3">***</text>
<text transform="translate(1418.20,498.77) scale(1.0,0.97)" font-size="40" stroke="#000" stroke-width="0.3">***</text>
<text transform="translate(655.10,1299.37) scale(1.0,0.97)" font-size="40" stroke="#000" stroke-width="0.3">***</text>
<text transform="translate(312.10,1885.87) scale(1.0,0.97)" font-size="40" stroke="#000" stroke-width="0.3">***</text>
<text transform="translate(372.20,1849.77) scale(1.0,0.97)" font-size="40" stroke="#000" stroke-width="0.3">***</text>
<text transform="translate(498.20,1897.97) scale(1.0,0.97)" font-size="40" stroke="#000" stroke-width="0.3">***</text>
<text transform="translate(564.90,1997.57) scale(1.0,0.97)" font-size="40" stroke="#000" stroke-width="0.3">***</text>
<text transform="translate(628.10,2043.87) scale(1.0,0.97)" font-size="40" stroke="#000" stroke-width="0.3">***</text>
<text transform="translate(1069.90,1948.57) scale(1.0,0.97)" font-size="40" stroke="#000" stroke-width="0.3">***</text>
<text transform="translate(1324.70,1959.17) scale(1.0,0.97)" font-size="40" stroke="#000" stroke-width="0.3">***</text>
<text transform="translate(1385.60,1837.27) scale(1.0,0.97)" font-size="40" stroke="#000" stroke-width="0.3">***</text>
<text transform="translate(33.8,693.6) rotate(-90) scale(0.9545,1.03)" font-size="37.5" font-weight="bold">ATP concentration (M) / 10<tspan font-size="28" dy="-12.7">6</tspan><tspan dy="12.7"> cells</tspan></text>
<text transform="translate(810.70,507.94) rotate(-90) scale(0.9605,1.03)" font-size="37.5" font-weight="bold">Ion counts</text>
<text transform="translate(62.40,1277.75) rotate(-90) scale(0.9638,1.03)" font-size="37.5" font-weight="bold">Ion counts</text>
<text transform="translate(61.50,2019.84) rotate(-90) scale(0.9605,1.03)" font-size="37.5" font-weight="bold">Ion counts</text>
<text transform="translate(819.90,2019.84) rotate(-90) scale(0.9595,1.03)" font-size="37.5" font-weight="bold">Ion counts</text>
<text transform="translate(7.56,41.81) scale(0.6571,0.9718)" font-size="58" stroke="#000" stroke-width="1.596">(</text>
<text transform="translate(25.80,43.41) scale(0.7533,0.9373)" font-size="58" stroke="#000" stroke-width="0.592">a</text>
<text transform="translate(59.06,41.81) scale(0.6571,0.9718)" font-size="58" stroke="#000" stroke-width="1.596">)</text>
<text transform="translate(850.04,41.51) scale(0.6636,0.9718)" font-size="58" stroke="#000" stroke-width="1.590">(</text>
<text transform="translate(867.50,42.98) scale(0.9693,0.9876)" font-size="58" stroke="#000" stroke-width="0.511">b</text>
<text transform="translate(904.17,41.51) scale(0.6311,0.9718)" font-size="58" stroke="#000" stroke-width="1.622">)</text>
<text transform="translate(7.83,893.81) scale(0.6376,0.9718)" font-size="58" stroke="#000" stroke-width="1.616">(</text>
<text transform="translate(25.26,895.71) scale(0.8561,0.9342)" font-size="58" stroke="#000" stroke-width="0.559">c</text>
<text transform="translate(55.76,893.81) scale(0.6571,0.9718)" font-size="58" stroke="#000" stroke-width="1.596">)</text>
<text transform="translate(7.83,1629.21) scale(0.6376,0.9718)" font-size="58" stroke="#000" stroke-width="1.616">(</text>
<text transform="translate(25.40,1630.47) scale(0.9693,0.9923)" font-size="58" stroke="#000" stroke-width="0.510">d</text>
<text transform="translate(62.67,1629.21) scale(0.6376,0.9718)" font-size="58" stroke="#000" stroke-width="1.616">)</text>
<text transform="translate(797.99,1629.15) scale(0.6506,0.9773)" font-size="58" stroke="#000" stroke-width="1.597">(</text>
<text transform="translate(815.81,1630.72) scale(0.9244,0.9216)" font-size="58" stroke="#000" stroke-width="0.542">e</text>
<text transform="translate(851.27,1629.15) scale(0.6376,0.9773)" font-size="58" stroke="#000" stroke-width="1.610">)</text>
<rect x="152.3" y="11.75" width="95" height="71.3" fill="#fff" stroke="#000" stroke-width="2.5" stroke-linejoin="round"/>
<rect x="165.8" y="25.5" width="27.4" height="14.5" fill="#FF7F7F" stroke="#000" stroke-width="3.8"/>
<rect x="165.8" y="56" width="27.4" height="14.5" fill="#0096FF" stroke="#000" stroke-width="3.8"/>
<text transform="translate(209.20,40.30) scale(0.9806,1)" font-size="21" font-weight="normal">AC</text>
<text transform="translate(209.15,70.60) scale(0.9824,1)" font-size="21" font-weight="normal">EC</text>
</svg></body></html>
